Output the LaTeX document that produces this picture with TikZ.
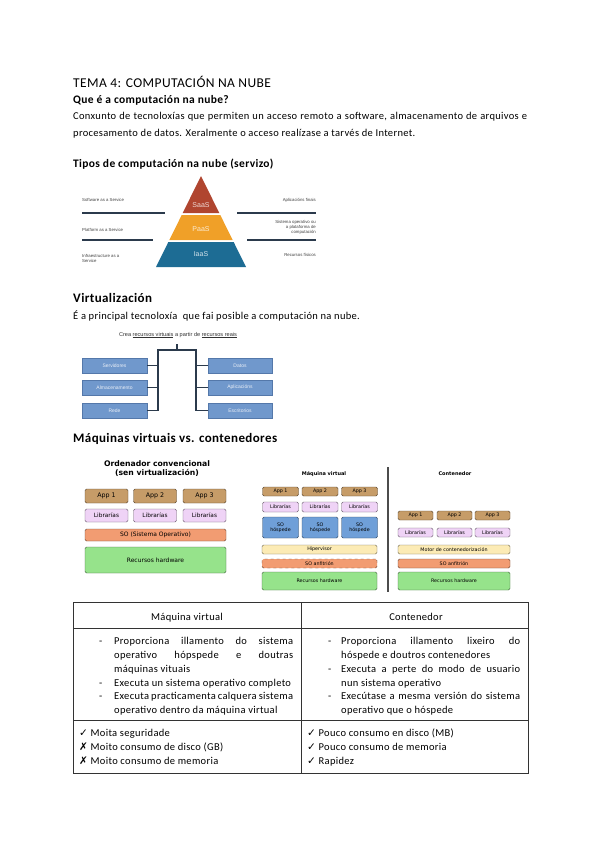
\documentclass[tikz,border=0pt]{standalone}
\usepackage{fontspec}
\setmainfont{Carlito}[LetterSpace=3]
\newfontfamily\dejavu{DejaVu Sans}
\newfontfamily\arialfont{Liberation Sans}
\usetikzlibrary{positioning}
\definecolor{saasred}{HTML}{B0452F}
\definecolor{paasorange}{HTML}{F0A028}
\definecolor{iaasblue}{HTML}{1D6C94}
\definecolor{navyline}{HTML}{2B3A4C}
\definecolor{vboxfill}{HTML}{7098CC}
\definecolor{vboxedge}{HTML}{5478AA}
\definecolor{appcol}{HTML}{C69C68}
\definecolor{libcol}{HTML}{EFD3F6}
\definecolor{oscol}{HTML}{F29C72}
\definecolor{hwcol}{HTML}{96E38B}
\definecolor{guestcol}{HTML}{6F9FD8}
\definecolor{hypcol}{HTML}{FCEBB5}
\newcommand{\fullline}[1]{\makebox[179pt][s]{#1}}
\newcommand{\cm}{{\dejavu\char"2713}}
\newcommand{\xm}{{\dejavu\char"2717}}

\begin{document}
\begin{tikzpicture}[x=1pt,y=-1pt,
    txt/.style={anchor=base west,inner sep=0pt},
    hd/.style={txt,font=\fontsize{11.5}{14}\selectfont\bfseries},
    body/.style={txt,font=\fontsize{10.5}{12}\selectfont},
    cell/.style={txt,font=\fontsize{10.5}{12}\selectfont},
    tiny/.style={inner sep=0pt,align=left,text=black!75,font=\arialfont\fontsize{4.3}{5}\selectfont},
    pyrline/.style={line width=2pt,draw=navyline},
    bar/.style={line width=1.6pt,draw=navyline},
    vbox/.style={draw=vboxedge,fill=vboxfill,minimum height=15pt,inner sep=0pt,
        text=white!85!vboxfill,font=\arialfont\fontsize{5}{6}\selectfont},
    blk/.style={draw=#1!45!black,fill=#1,rounded corners=1.5pt,inner sep=0pt,align=center,
        font=\dejavu\fontsize{4.8}{5.5}\selectfont},
    tabline/.style={line width=0.9pt,draw=black!80}
]
\useasboundingbox (0,0) rectangle (600,848);
\fill[white] (0,0) rectangle (600,848);

% Heading and intro
\node[txt,font=\fontsize{13.5}{16}\selectfont] (title) at (73,88) {TEMA 4: COMPUTACIÓN NA NUBE};
\node[hd] (q1) at (73,103.5) {Que é a computación na nube?};
\node[body] (intro1) at (73,119.5) {\makebox[454pt][s]{Conxunto de tecnoloxías que permiten un acceso remoto a software, almacenamento de arquivos e}};
\node[body] (intro2) at (73,136.5) {procesamento de datos. Xeralmente o acceso realízase a tarvés de Internet.};
\node[hd] (tipos) at (73,167.5) {Tipos de computación na nube (servizo)};

% Pyramid
\foreach \ytop/\ybot/\col in {176/213/saasred, 215/240/paasorange, 242/267/iaasblue} {
    \pgfmathsetmacro\wt{45*(\ytop-176)/91}
    \pgfmathsetmacro\wb{45*(\ybot-176)/91}
    \fill[\col] (201-\wt,\ytop) -- (201+\wt,\ytop) -- (201+\wb,\ybot) -- (201-\wb,\ybot) -- cycle;
}
\node[text=white!80!saasred,font=\arialfont\fontsize{7}{8}\selectfont] (saas) at (201,205) {SaaS};
\node[text=white!80!paasorange,font=\arialfont\fontsize{7}{8}\selectfont] (paas) at (201,229) {PaaS};
\node[text=white!80!iaasblue,font=\arialfont\fontsize{7}{8}\selectfont] (iaas) at (201,254) {IaaS};
\draw[pyrline] (82,213) -- (165,213);
\draw[pyrline] (82,240) -- (153,240);
\draw[pyrline] (237,213) -- (316,213);
\draw[pyrline] (247,240) -- (316,240);
\node[tiny,anchor=west] (sw) at (82,200) {Software as a Service};
\node[tiny,anchor=west] (pf) at (82,230) {Platform as a Service};
\node[tiny,anchor=west] (inf) at (82,258) {Infraestructure as a\\Service};
\node[tiny,anchor=east] (apf) at (316,200) {Aplicacións finais};
\node[tiny,anchor=east,align=right] (sop) at (316,227.5) {Sistema operativo ou\\a plataforma de\\computación};
\node[tiny,anchor=east] (rfis) at (316,255) {Recursos físicos};

% Virtualization
\node[hd,font=\fontsize{13}{14}\selectfont\bfseries] (virt) at (73,302) {Virtualización};
\node[body] (virt1) at (73,319.5) {É a principal tecnoloxía~ que fai posible a computación na nube.};
\node[inner sep=0pt,text=black!80,font=\arialfont\fontsize{5.6}{6}\selectfont] (crea) at (178,335)
    {Crea \underline{recursos virtuais} a partir de \underline{recursos reais}};
\node[vbox,minimum width=65pt] (srv) at (114.5,365.5) {Servidores};
\node[vbox,minimum width=65pt] (alm) at (114.5,387.5) {Almacenamento};
\node[vbox,minimum width=65pt] (rede) at (114.5,410.5) {Rede};
\node[vbox,minimum width=64pt] (dat) at (240,365.5) {Datos};
\node[vbox,minimum width=64pt] (apl) at (240,387.5) {Aplicacións};
\node[vbox,minimum width=64pt] (esc) at (240,410.5) {Escritorios};
\coordinate (tick) at (177,344);
\coordinate (busL) at (158,350);
\coordinate (busR) at (196,350);
\draw[bar] (tick) -- (tick |- busL);
\draw[bar] (rede.east) -| (busL) -- (busR) |- (esc.west);
\draw[bar] (srv.east) -- (srv.east -| busL);
\draw[bar] (alm.east) -- (alm.east -| busL);
\draw[bar] (dat.west) -- (dat.west -| busR);
\draw[bar] (apl.west) -- (apl.west -| busR);

% Virtual machines vs containers
\node[hd,font=\fontsize{13}{14}\selectfont\bfseries] (mvc) at (73,442) {Máquinas virtuais vs. contenedores};

% -- conventional computer
\node[align=center,inner sep=0pt,font=\dejavu\bfseries\fontsize{7.7}{9}\selectfont] (pctit) at (157,468.5)
    {Ordenador convencional\\(sen virtualización)};
\foreach \i/\x in {1/106.5,2/155,3/204.5} {
    \node[blk=appcol,minimum width=43pt,minimum height=14pt,font=\dejavu\fontsize{6.3}{7}\selectfont] (pcapp\i) at (\x,496) {App \i};
    \node[blk=libcol,minimum width=43pt,minimum height=13pt,font=\dejavu\fontsize{5.8}{7}\selectfont] (pclib\i) at (\x,515.5) {Librarías};
}
\node[blk=oscol,minimum width=141pt,minimum height=12pt,font=\dejavu\fontsize{6}{7}\selectfont] (pcso) at (155.5,535) {SO (Sistema Operativo)};
\node[blk=hwcol,minimum width=141pt,minimum height=26pt,font=\dejavu\fontsize{6}{7}\selectfont] (pchw) at (155.5,560) {Recursos hardware};

% -- virtual machine
\node[inner sep=0pt,font=\dejavu\bfseries\fontsize{5}{6}\selectfont] (vmtit) at (324,474) {Máquina virtual};
\foreach \i/\x in {1/280.5,2/320,3/359.5} {
    \node[blk=appcol,minimum width=36pt,minimum height=9pt] (vmapp\i) at (\x,491.5) {App \i};
    \node[blk=libcol,minimum width=36pt,minimum height=10pt] (vmlib\i) at (\x,507) {Librarías};
    \node[blk=guestcol,minimum width=36pt,minimum height=21pt] (vmso\i) at (\x,527.5) {SO\\hóspede};
}
\node[blk=hypcol,minimum width=115pt,minimum height=9pt] (vmhyp) at (319.5,549.5) {Hipervisor};
\node[blk=oscol,dashed,minimum width=115pt,minimum height=9pt] (vmanf) at (319.5,563.5) {SO anfitrión};
\node[blk=hwcol,minimum width=115pt,minimum height=18pt] (vmhw) at (319.5,581) {Recursos hardware};

\draw[line width=1.2pt,black!70] (388,467) -- (388,592);

% -- container
\node[inner sep=0pt,font=\dejavu\bfseries\fontsize{5}{6}\selectfont] (cttit) at (455,474) {Contenedor};
\foreach \i/\x in {1/415.5,2/454.5,3/492.5} {
    \node[blk=appcol,minimum width=35pt,minimum height=9pt] (ctapp\i) at (\x,515.5) {App \i};
    \node[blk=libcol,minimum width=35pt,minimum height=9pt] (ctlib\i) at (\x,532.5) {Librarías};
}
\node[blk=hypcol,minimum width=112pt,minimum height=9pt] (ctmot) at (454,549.5) {Motor de contenedorización};
\node[blk=oscol,minimum width=112pt,minimum height=9pt] (ctanf) at (454,563.5) {SO anfitrión};
\node[blk=hwcol,minimum width=112pt,minimum height=18pt] (cthw) at (454,581) {Recursos hardware};

% Comparison table
\draw[tabline] (73,602) rectangle (528,773);
\draw[tabline] (301,602) -- (301,773);
\draw[tabline] (73,628) -- (528,628);
\draw[tabline] (73,720) -- (528,720);
\node[cell,anchor=base] (thmv) at (187,620.5) {Máquina virtual};
\node[cell,anchor=base] (thct) at (416,620.5) {Contenedor};

\foreach \y in {644.5,686,699.5} \node[cell] at (99,\y) {-};
\foreach \y in {644.5,672,699.5} \node[cell] at (328,\y) {-};
\node[cell] (mv1) at (114,644.5) {\fullline{Proporciona illamento do sistema}};
\node[cell] (mv2) at (114,658.5) {\fullline{operativo hópspede e doutras}};
\node[cell] (mv3) at (114,672) {máquinas vituais};
\node[cell] (mv4) at (114,686) {Executa un sistema operativo completo};
\node[cell] (mv5) at (114,699.5) {\fullline{Executa practicamenta calquera sistema}};
\node[cell] (mv6) at (114,713) {operativo dentro da máquina virtual};
\node[cell] (ct1) at (341,644.5) {\fullline{Proporciona illamento lixeiro do}};
\node[cell] (ct2) at (341,658.5) {hóspede e doutros contenedores};
\node[cell] (ct3) at (341,672) {\fullline{Executa a perte do modo de usuario}};
\node[cell] (ct4) at (341,686) {nun sistema operativo};
\node[cell] (ct5) at (341,699.5) {\fullline{Execútase a mesma versión do sistema}};
\node[cell] (ct6) at (341,713) {operativo que o hóspede};

\node[cell] (mvp1) at (79,736.5) {\cm\ Moita seguridade};
\node[cell] (mvp2) at (79,750.5) {\xm\ Moito consumo de disco (GB)};
\node[cell] (mvp3) at (79,764.5) {\xm\ Moito consumo de memoria};
\node[cell] (ctp1) at (307,736.5) {\cm\ Pouco consumo en disco (MB)};
\node[cell] (ctp2) at (307,750.5) {\cm\ Pouco consumo de memoria};
\node[cell] (ctp3) at (307,764.5) {\cm\ Rapidez};
\end{tikzpicture}
\end{document}
